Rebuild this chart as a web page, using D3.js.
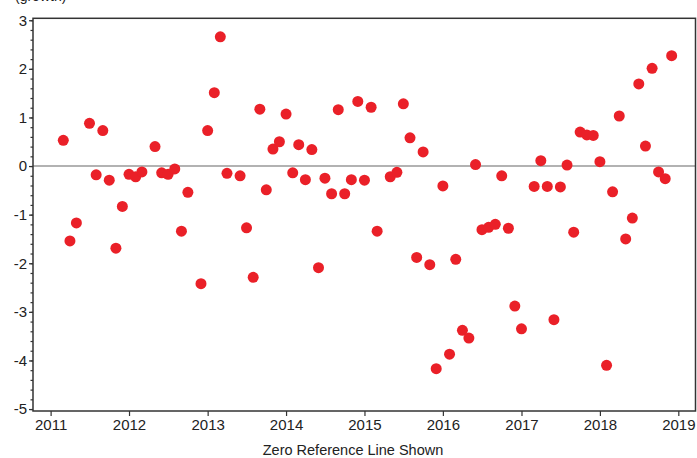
<!DOCTYPE html>
<html>
<head>
<meta charset="utf-8">
<script src="https://cdn.jsdelivr.net/npm/d3@7"></script>
<style>
  body { margin: 0; background: #fff; }
  svg { display: block; font-family: "Liberation Sans", Arial, sans-serif; }
</style>
</head>
<body>
<svg id="chart"></svg>
<script>
// monthly observations (some months missing)
const months = [
  "2011-03","2011-04","2011-05","2011-07","2011-08","2011-09","2011-10","2011-11","2011-12",
  "2012-01","2012-02","2012-03","2012-05","2012-06","2012-07","2012-08","2012-09","2012-10","2012-12",
  "2013-01","2013-02","2013-03","2013-04","2013-06","2013-07","2013-08","2013-09","2013-10","2013-11","2013-12",
  "2014-01","2014-02","2014-03","2014-04","2014-05","2014-06","2014-07","2014-08","2014-09","2014-10","2014-11","2014-12",
  "2015-01","2015-02","2015-03","2015-05","2015-06","2015-07","2015-08","2015-09","2015-10","2015-11","2015-12",
  "2016-01","2016-02","2016-03","2016-04","2016-05","2016-06","2016-07","2016-08","2016-09","2016-10","2016-11","2016-12",
  "2017-01","2017-03","2017-04","2017-05","2017-06","2017-07","2017-08","2017-09","2017-10","2017-11","2017-12",
  "2018-01","2018-02","2018-03","2018-04","2018-05","2018-06","2018-07","2018-08","2018-09","2018-10","2018-11","2018-12"
]
const values = [
  0.53,-1.54,-1.17,0.88,-0.18,0.73,-0.29,-1.69,-0.83,
  -0.17,-0.22,-0.12,0.40,-0.14,-0.17,-0.06,-1.34,-0.54,-2.42,
  0.73,1.51,2.66,-0.15,-0.20,-1.27,-2.29,1.17,-0.49,0.35,0.50,
  1.07,-0.14,0.44,-0.28,0.34,-2.09,-0.25,-0.57,1.16,-0.57,-0.28,1.33,
  -0.29,1.21,-1.34,-0.22,-0.13,1.28,0.58,-1.88,0.29,-2.03,-4.17,
  -0.41,-3.87,-1.92,-3.38,-3.54,0.03,-1.31,-1.26,-1.20,-0.20,-1.28,-2.88,
  -3.35,-0.42,0.11,-0.42,-3.16,-0.43,0.02,-1.36,0.70,0.64,0.63,
  0.09,-4.10,-0.53,1.03,-1.50,-1.07,1.69,0.41,2.01,-0.12,-0.26,2.27
]
const yTicks = [-5,-4,-3,-2,-1,0,1,2,3]
const xTickYears = [2011,2012,2013,2014,2015,2016,2017,2018,2019]
const yLabel = "(growth)"
const xTitle = "Zero Reference Line Shown"

const width = 697, height = 458
const margin = {top: 18.3, right: 1.5, bottom: 47, left: 33}

const parse = d3.timeParse("%Y-%m")
const data = months.map((m, i) => ({date: parse(m), value: values[i]}))

const svg = d3.select("#chart")
  .attr("width", width)
  .attr("height", height)

const x = d3.scaleTime()
  .domain([new Date(2010, 9, 11), new Date(2019, 2, 22)])
  .range([margin.left, width - margin.right])

const y = d3.scaleLinear()
  .domain([-5.04, 3.04])
  .range([height - margin.bottom, margin.top])

// zero reference line
svg.append("line")
  .attr("x1", margin.left)
  .attr("x2", width - margin.right)
  .attr("y1", y(0))
  .attr("y2", y(0))
  .attr("stroke", "#999")
  .attr("stroke-width", 1.5)

// points
svg.append("g")
  .selectAll("circle")
  .data(data)
  .join("circle")
  .attr("cx", d => x(d.date))
  .attr("cy", d => y(d.value))
  .attr("r", 5.5)
  .attr("fill", "#ea2028")

// frame
svg.append("rect")
  .attr("x", margin.left)
  .attr("y", margin.top)
  .attr("width", width - margin.right - margin.left)
  .attr("height", height - margin.bottom - margin.top)
  .attr("fill", "none")
  .attr("stroke", "#333")
  .attr("stroke-width", 1.5)

// y axis: minor ticks then major ticks with labels
const minor = d3.range(-50, 31, 2).map(d => d / 10)
svg.append("g")
  .attr("transform", `translate(${margin.left},0)`)
  .call(d3.axisLeft(y).tickValues(minor).tickSize(2.5).tickFormat(""))
  .call(g => g.select(".domain").remove())
  .call(g => g.selectAll("line").attr("stroke", "#333").attr("stroke-width", 1.2))

svg.append("g")
  .attr("transform", `translate(${margin.left},0)`)
  .call(d3.axisLeft(y).tickValues(yTicks).tickSize(4).tickPadding(2).tickFormat(d => String(d)))
  .call(g => g.select(".domain").remove())
  .call(g => g.selectAll("line").attr("stroke", "#333").attr("stroke-width", 1.2))
  .call(g => g.selectAll("text").attr("font-size", 15).attr("fill", "#222")
    .attr("font-family", "'Liberation Sans', Arial, sans-serif"))

// x axis
svg.append("g")
  .attr("transform", `translate(0,${height - margin.bottom})`)
  .call(d3.axisBottom(x)
    .tickValues(xTickYears.map(yr => new Date(yr, 0, 1)))
    .tickSize(5).tickPadding(3)
    .tickFormat(d3.timeFormat("%Y")))
  .call(g => g.select(".domain").remove())
  .call(g => g.selectAll("line").attr("stroke", "#333").attr("stroke-width", 1.2))
  .call(g => g.selectAll("text").attr("font-size", 15).attr("fill", "#222")
    .attr("font-family", "'Liberation Sans', Arial, sans-serif"))

// unit label, cut off at the top as in the original
svg.append("text")
  .attr("x", 15)
  .attr("y", 1)
  .attr("font-size", 14)
  .attr("fill", "#222")
  .text(yLabel)

// title under the axis
svg.append("text")
  .attr("x", 353)
  .attr("y", 455)
  .attr("text-anchor", "middle")
  .attr("font-size", 14.5)
  .attr("fill", "#222")
  .text(xTitle)
</script>
</body>
</html>
